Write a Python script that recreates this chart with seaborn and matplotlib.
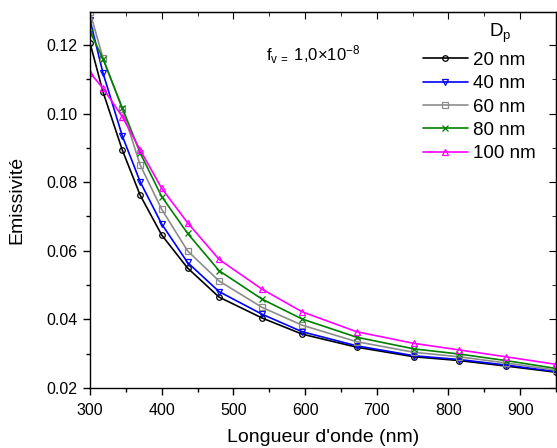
import numpy as np
import pandas as pd
import matplotlib
matplotlib.use("Agg")
import matplotlib.pyplot as plt
import seaborn as sns
from matplotlib.ticker import MultipleLocator, FormatStrFormatter

# wavelengths (nm) and emissivity per particle diameter
wavelength = [300, 318, 345, 370, 400, 436, 480, 540, 596, 672, 752, 815, 880, 950]
em_20 = [0.1206, 0.1064, 0.0894, 0.0762, 0.0646, 0.0550, 0.0465, 0.0404, 0.0357, 0.0319, 0.0291, 0.0280, 0.0264, 0.0246]
em_40 = [0.1273, 0.1119, 0.0935, 0.0801, 0.0678, 0.0566, 0.0481, 0.0415, 0.0364, 0.0323, 0.0294, 0.0283, 0.0267, 0.0248]
em_60 = [0.1295, 0.1163, 0.1013, 0.0850, 0.0721, 0.0600, 0.0512, 0.0435, 0.0383, 0.0335, 0.0304, 0.0291, 0.0273, 0.0252]
em_80 = [0.1239, 0.1160, 0.1017, 0.0885, 0.0758, 0.0651, 0.0542, 0.0459, 0.0401, 0.0348, 0.0314, 0.0299, 0.0280, 0.0257]
em_100 = [0.1119, 0.1074, 0.0991, 0.0894, 0.0782, 0.0682, 0.0575, 0.0488, 0.0422, 0.0364, 0.0330, 0.0311, 0.0291, 0.0269]

labels = ["20 nm", "40 nm", "60 nm", "80 nm", "100 nm"]
series = [em_20, em_40, em_60, em_80, em_100]
colors = ["black", "#0000ff", "#8c8c8c", "#008000", "#ff00ff"]
markers = ["o", "v", "s", "x", "^"]

sns.set_style("ticks")
plt.rcParams["font.family"] = ["Liberation Sans", "DejaVu Sans"]
plt.rcParams["mathtext.fontset"] = "custom"
plt.rcParams["mathtext.rm"] = "Liberation Sans"
plt.rcParams["mathtext.it"] = "Liberation Sans:italic"
plt.rcParams["text.color"] = "black"
plt.rcParams["axes.labelcolor"] = "black"
plt.rcParams["xtick.color"] = "black"
plt.rcParams["ytick.color"] = "black"
plt.rcParams["axes.edgecolor"] = "black"

fig = plt.figure(figsize=(5.57, 4.48), dpi=100)
ax = fig.add_axes([90 / 557, 1 - 388 / 448, 466 / 557, 376 / 448])

for lab, vals, c, m in zip(labels, series, colors, markers):
    df = pd.DataFrame({"x": wavelength, "y": vals})
    sns.lineplot(data=df, x="x", y="y", ax=ax, color=c, marker=m,
                 markersize=4, markerfacecolor="none", markeredgecolor=c,
                 markeredgewidth=0.9, linewidth=1.2, label=lab)

ax.set_xlim(300, 950)
ax.set_ylim(0.02, 0.1296)
ax.xaxis.set_major_locator(MultipleLocator(100))
ax.xaxis.set_minor_locator(MultipleLocator(50))
ax.yaxis.set_major_locator(MultipleLocator(0.02))
ax.yaxis.set_minor_locator(MultipleLocator(0.01))
ax.yaxis.set_major_formatter(FormatStrFormatter("%.2f"))
ax.tick_params(which="major", direction="out", length=5, width=1, labelsize=11.5)
ax.tick_params(axis="y", which="major", pad=4)
ax.tick_params(axis="x", which="major", pad=6)
ax.tick_params(which="minor", direction="out", length=3, width=1)
for s in ax.spines.values():
    s.set_linewidth(1)

# mirrored ticks on top / right, pointing inward
top = ax.secondary_xaxis("top")
top.xaxis.set_major_locator(MultipleLocator(100))
top.xaxis.set_minor_locator(MultipleLocator(50))
top.tick_params(which="major", direction="in", length=5, labeltop=False)
top.tick_params(which="minor", direction="in", length=3)
right = ax.secondary_yaxis("right")
right.yaxis.set_major_locator(MultipleLocator(0.02))
right.yaxis.set_minor_locator(MultipleLocator(0.01))
right.tick_params(which="major", direction="in", length=5, labelright=False)
right.tick_params(which="minor", direction="in", length=3)

ax.set_xlabel("Longueur d'onde (nm)", fontsize=14, labelpad=8)
ax.set_ylabel("Emissivité", fontsize=14, labelpad=15)

ax.text(545, 0.1153, r"f$_{\mathrm{v\,=}}$ 1,0×10$^{-8}$", fontsize=12,
        va="baseline", ha="left")
ax.text(857, 0.1223, r"D$_\mathrm{p}$", fontsize=13.5, va="baseline", ha="left")

handles, labs = ax.get_legend_handles_labels()
leg = ax.legend(handles, labs, frameon=False,
                fontsize=13.5, loc="upper right",
                bbox_to_anchor=(0.985, 0.929), handlelength=2.4,
                handletextpad=0.3, labelspacing=0.33, borderaxespad=0.3)

fig.savefig("out.png", dpi=100)
